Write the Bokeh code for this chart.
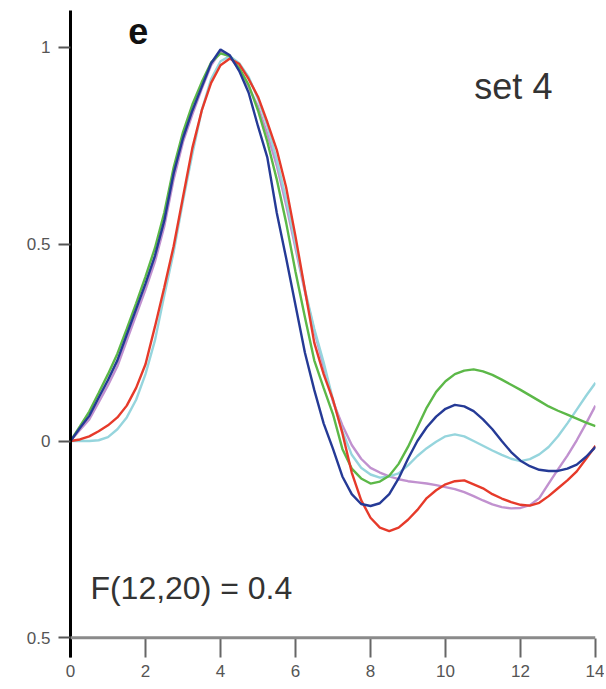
from bokeh.plotting import figure
from bokeh.models import Range1d, FixedTicker, Label, Span
from bokeh.embed import file_html
from bokeh.resources import INLINE

x = [0, 0.25, 0.5, 0.75, 1, 1.25, 1.5, 1.75, 2, 2.25, 2.5, 2.75, 3, 3.25, 3.5, 3.75,
     4, 4.25, 4.5, 4.75, 5, 5.25, 5.5, 5.75, 6, 6.25, 6.5, 6.75, 7, 7.25, 7.5, 7.75,
     8, 8.25, 8.5, 8.75, 9, 9.25, 9.5, 9.75, 10, 10.25, 10.5, 10.75, 11, 11.25, 11.5, 11.75,
     12, 12.25, 12.5, 12.75, 13, 13.25, 13.5, 13.75, 14]

blue = [0, 0.033, 0.064, 0.11, 0.155, 0.205, 0.27, 0.335, 0.40, 0.47, 0.56, 0.68,
        0.77, 0.84, 0.90, 0.96, 0.995, 0.98, 0.94, 0.885, 0.80, 0.72, 0.58, 0.465,
        0.345, 0.225, 0.13, 0.045, -0.02, -0.09, -0.135, -0.16, -0.165, -0.158, -0.135, -0.095,
        -0.045, 0.0, 0.035, 0.062, 0.082, 0.092, 0.088, 0.076, 0.055, 0.03, 0.0, -0.028,
        -0.05, -0.064, -0.073, -0.076, -0.076, -0.07, -0.06, -0.04, -0.015]
green = [0, 0.037, 0.075, 0.122, 0.17, 0.222, 0.285, 0.35, 0.418, 0.49, 0.58, 0.695,
         0.785, 0.855, 0.912, 0.962, 0.985, 0.978, 0.948, 0.905, 0.84, 0.76, 0.665, 0.555,
         0.43, 0.315, 0.205, 0.135, 0.068, -0.02, -0.07, -0.095, -0.108, -0.103, -0.088, -0.058,
         -0.015, 0.035, 0.085, 0.125, 0.152, 0.17, 0.179, 0.182, 0.177, 0.168, 0.156, 0.143,
         0.13, 0.116, 0.102, 0.088, 0.077, 0.067, 0.057, 0.047, 0.038]
purple = [0, 0.028, 0.055, 0.098, 0.142, 0.19, 0.255, 0.32, 0.385, 0.455, 0.545, 0.665,
          0.76, 0.83, 0.895, 0.955, 0.99, 0.975, 0.945, 0.9, 0.85, 0.78, 0.70, 0.60,
          0.49, 0.38, 0.28, 0.19, 0.10, 0.04, -0.01, -0.045, -0.068, -0.08, -0.09, -0.097,
          -0.102, -0.105, -0.108, -0.112, -0.117, -0.122, -0.13, -0.14, -0.151, -0.161, -0.168, -0.171,
          -0.17, -0.163, -0.145, -0.108, -0.072, -0.037, 0.002, 0.045, 0.09]
cyan = [0, 0.0, 0.0, 0.002, 0.01, 0.03, 0.06, 0.105, 0.17, 0.255, 0.37, 0.48,
        0.61, 0.73, 0.84, 0.92, 0.965, 0.978, 0.96, 0.925, 0.87, 0.80, 0.715, 0.615,
        0.50, 0.385, 0.285, 0.2, 0.105, 0.025, -0.035, -0.068, -0.085, -0.093, -0.09, -0.082,
        -0.062, -0.038, -0.018, -0.002, 0.012, 0.017, 0.012, 0.0, -0.012, -0.024, -0.035, -0.045,
        -0.051, -0.046, -0.034, -0.015, 0.012, 0.045, 0.08, 0.115, 0.148]
red = [0, 0.004, 0.012, 0.025, 0.04, 0.06, 0.09, 0.135, 0.195, 0.29, 0.39, 0.495,
       0.62, 0.745, 0.84, 0.91, 0.955, 0.972, 0.958, 0.92, 0.875, 0.81, 0.74, 0.645,
       0.52, 0.385, 0.25, 0.17, 0.105, 0.02, -0.08, -0.15, -0.195, -0.22, -0.229, -0.22,
       -0.2, -0.175, -0.145, -0.125, -0.11, -0.102, -0.10, -0.11, -0.12, -0.135, -0.146, -0.155,
       -0.162, -0.164, -0.157, -0.14, -0.12, -0.10, -0.077, -0.045, -0.012]

series = [("purple", purple, "#c191cf"), ("cyan", cyan, "#96d5dd"), ("green", green, "#5cb848"),
          ("red", red, "#e63a2a"), ("blue", blue, "#253a96")]

x_ticks = [0, 2, 4, 6, 8, 10, 12, 14]
y_ticks = [-0.5, 0, 0.5, 1]
y_tick_labels = {-0.5: "0.5", 0: "0", 0.5: "0.5", 1: "1"}
x_axis_level = -0.5

FONT = "Liberation Sans"

p = figure(width=604, height=685, output_backend="svg", toolbar_location=None,
           x_range=Range1d(0, 14), y_range=Range1d(-0.55, 1.094),
           min_border_left=70, min_border_right=9, min_border_top=10, min_border_bottom=28)
p.outline_line_color = None
p.grid.visible = False
p.background_fill_color = "white"

for name, ys, col in series:
    p.line(x, ys, line_color=col, line_width=2.4)

# horizontal axis line at y = -0.5
p.add_layout(Span(location=x_axis_level, dimension="width", line_color="#8a8a8a", line_width=3))

xa = p.xaxis[0]
xa.ticker = FixedTicker(ticks=x_ticks)
xa.axis_line_color = None
xa.major_tick_line_color = "#666666"
xa.major_tick_line_width = 2
xa.major_tick_in = 19
xa.major_tick_out = 0
xa.minor_tick_line_color = None
xa.major_label_standoff = 7
xa.major_label_text_font = FONT
xa.major_label_text_font_size = "17px"
xa.major_label_text_color = "#555555"

ya = p.yaxis[0]
ya.ticker = FixedTicker(ticks=y_ticks)
ya.major_label_overrides = y_tick_labels
ya.axis_line_color = "black"
ya.axis_line_width = 3
ya.major_tick_line_color = "#555555"
ya.major_tick_line_width = 2
ya.major_tick_out = 12
ya.major_tick_in = 0
ya.minor_tick_line_color = None
ya.major_label_standoff = 8
ya.major_label_text_font = FONT
ya.major_label_text_font_size = "17px"
ya.major_label_text_color = "#555555"

p.add_layout(Label(x=1.81, y=1.041, text="e", text_font=FONT, text_font_style="bold",
                   text_font_size="36px", text_align="center", text_baseline="middle",
                   text_color="#111111"))
p.add_layout(Label(x=11.81, y=0.90, text="set 4", text_font=FONT,
                   text_font_size="36px", text_align="center", text_baseline="middle",
                   text_color="#333333"))
p.add_layout(Label(x=0.53, y=-0.374, text="F(12,20) = 0.4", text_font=FONT,
                   text_font_size="32px", text_align="left", text_baseline="middle",
                   text_color="#333333"))

open("out.html", "w").write(file_html(p, INLINE))
